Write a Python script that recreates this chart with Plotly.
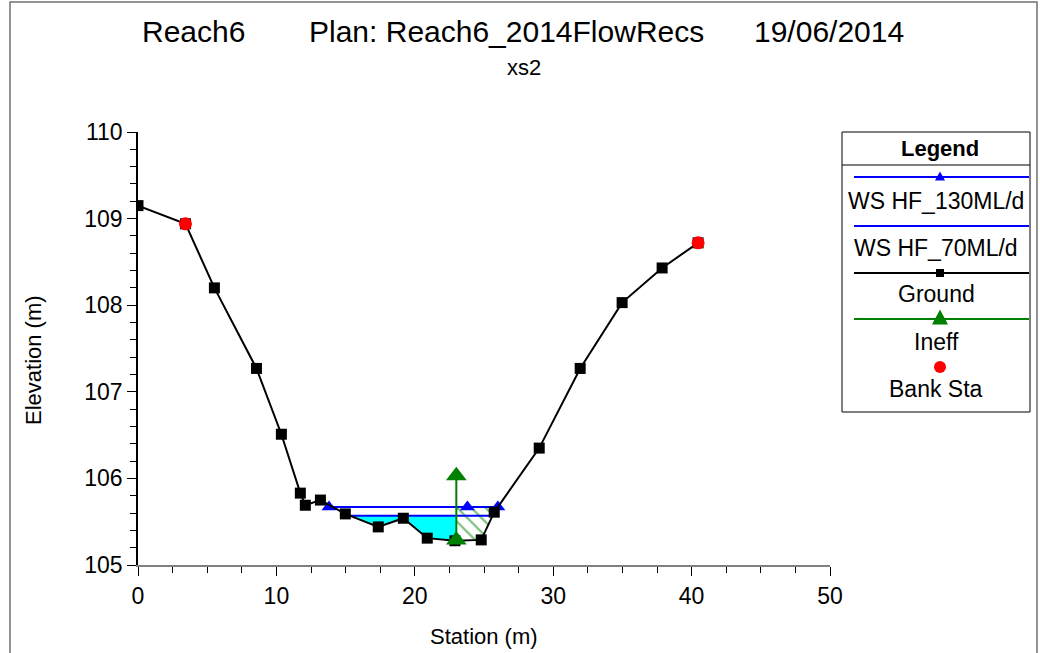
import numpy as np
import plotly.graph_objects as go

# ---- cross-section data (xs2) ----
ground_sta = [0.0, 3.43, 5.52, 8.56, 10.36, 11.73, 12.09, 13.18, 14.98, 17.36,
              19.17, 20.90, 22.90, 24.80, 25.74, 28.99, 31.95, 34.98, 37.87, 40.47]
ground_elev = [109.15, 108.94, 108.20, 107.27, 106.51, 105.83, 105.69, 105.75, 105.59, 105.44,
               105.54, 105.31, 105.28, 105.29, 105.61, 106.35, 107.27, 108.03, 108.43, 108.72]

ws130_sta = [13.8, 23.8, 26.0]
ws130_elev = [105.67, 105.67, 105.67]

ws70_sta = [15.3, 25.7]
ws70_elev = [105.57, 105.57]

ineff_sta = [23.0, 23.0]
ineff_elev = [105.29, 106.03]

bank_sta = [3.43, 40.47]
bank_elev = [108.94, 108.72]

title_parts = ["Reach6", "Plan: Reach6_2014FlowRecs", "19/06/2014"]
subtitle = "xs2"
legend_names = ["WS HF_130ML/d", "WS HF_70ML/d", "Ground", "Ineff", "Bank Sta"]

FONT = "Liberation Sans, Arial, sans-serif"
W, H = 1040, 653
ML, MR, MT, MB = 138, 210, 132, 88
PW, PH = W - ML - MR, H - MT - MB


def px(x):
    return (x - ML) / PW


def py(y):
    return (H - MB - y) / PH


g_x = np.array(ground_sta)
g_y = np.array(ground_elev)
x_ineff = ineff_sta[0]

# wetted area under the lower water surface, up to the ineffective-flow limit
ws_lo = ws70_elev[0]
xl = ws70_sta[0]
inner = (g_x > xl) & (g_x < x_ineff)
wet_x = [xl, x_ineff, x_ineff] + list(g_x[inner][::-1]) + [xl]
wet_y = [ws_lo, ws_lo, float(np.interp(x_ineff, g_x, g_y))] + list(g_y[inner][::-1]) + [float(np.interp(xl, g_x, g_y))]

# ineffective area (hatched) beneath the upper water surface
ws_hi = ws130_elev[0]
xr = ws130_sta[-1]
inner2 = (g_x > x_ineff) & (g_x < xr)
hat_x = [x_ineff, x_ineff, xr] + list(g_x[inner2][::-1])
hat_y = [float(np.interp(x_ineff, g_x, g_y)), ws_hi, float(np.interp(xr, g_x, g_y))] + list(g_y[inner2][::-1])
hat_x.append(hat_x[0])
hat_y.append(hat_y[0])

fig = go.Figure()
fig.add_trace(go.Scatter(x=wet_x, y=wet_y, mode="lines", fill="toself",
                         fillcolor="#00ffff", line=dict(width=0), hoverinfo="skip"))
fig.add_trace(go.Scatter(x=hat_x, y=hat_y, mode="lines", fill="toself",
                         fillcolor="rgba(0,0,0,0)", line=dict(width=0),
                         fillpattern=dict(shape="\\", fgcolor="#008000",
                                          bgcolor="rgba(0,0,0,0)", size=10, solidity=0.22),
                         hoverinfo="skip"))
fig.add_trace(go.Scatter(x=ws130_sta, y=ws130_elev, mode="lines+markers", name=legend_names[0],
                         line=dict(color="#0000ff", width=2),
                         marker=dict(symbol="triangle-up", size=13, color="#0000ff")))
fig.add_trace(go.Scatter(x=ws70_sta, y=ws70_elev, mode="lines", name=legend_names[1],
                         line=dict(color="#0000ff", width=2)))
fig.add_trace(go.Scatter(x=ground_sta, y=ground_elev, mode="lines+markers", name=legend_names[2],
                         line=dict(color="#000000", width=2),
                         marker=dict(symbol="square", size=11, color="#000000")))
fig.add_trace(go.Scatter(x=ineff_sta, y=ineff_elev, mode="lines+markers", name=legend_names[3],
                         line=dict(color="#008000", width=2),
                         marker=dict(symbol="triangle-up", size=18, color="#008000")))
fig.add_trace(go.Scatter(x=bank_sta, y=bank_elev, mode="markers", name=legend_names[4],
                         marker=dict(symbol="circle", size=13, color="#ff0000")))

shapes = []
annotations = []

# outer frame
shapes.append(dict(type="rect", xref="paper", yref="paper",
                   x0=px(10), x1=px(1037), y0=py(2), y1=py(660),
                   line=dict(color="#707070", width=1.5)))

# title
title_x = [140, 307, 752]
for t, xx in zip(title_parts, title_x):
    annotations.append(dict(text=t, x=px(xx), y=py(31), xref="paper", yref="paper",
                            xanchor="left", yanchor="middle", showarrow=False,
                            font=dict(family=FONT, size=30, color="black")))
annotations.append(dict(text=subtitle, x=px(524), y=py(67), xref="paper", yref="paper",
                        xanchor="center", yanchor="middle", showarrow=False,
                        font=dict(family=FONT, size=22, color="black")))

# axis titles
annotations.append(dict(text="Station (m)", x=px(484), y=py(636), xref="paper", yref="paper",
                        xanchor="center", yanchor="middle", showarrow=False,
                        font=dict(family=FONT, size=22, color="black")))
annotations.append(dict(text="Elevation (m)", x=px(33), y=py(360), xref="paper", yref="paper",
                        xanchor="center", yanchor="middle", showarrow=False, textangle=-90,
                        font=dict(family=FONT, size=22, color="black")))

# legend panel
LX0, LX1, LY0, LY1 = 842, 1030, 132, 412
shapes.append(dict(type="rect", xref="paper", yref="paper",
                   x0=px(LX0), x1=px(LX1), y0=py(LY0), y1=py(LY1),
                   fillcolor="white", line=dict(color="black", width=1)))
shapes.append(dict(type="line", xref="paper", yref="paper",
                   x0=px(LX0), x1=px(LX1), y0=py(165), y1=py(165),
                   line=dict(color="black", width=1)))
annotations.append(dict(text="<b>Legend</b>", x=px(940), y=py(148), xref="paper", yref="paper",
                        xanchor="center", yanchor="middle", showarrow=False,
                        font=dict(family=FONT, size=22, color="black")))

line_y = [177, 226, 273, 319]
line_c = ["#0000ff", "#0000ff", "#000000", "#008000"]
for yy, cc in zip(line_y, line_c):
    shapes.append(dict(type="line", xref="paper", yref="paper",
                       x0=px(854), x1=px(1029), y0=py(yy), y1=py(yy),
                       line=dict(color=cc, width=2)))


def tri(cx, cy, w, h, color):
    p = (f"M {px(cx)},{py(cy - h / 2)} L {px(cx - w / 2)},{py(cy + h / 2)} "
         f"L {px(cx + w / 2)},{py(cy + h / 2)} Z")
    return dict(type="path", xref="paper", yref="paper", path=p,
                fillcolor=color, line=dict(color=color, width=0))


shapes.append(tri(940, 176, 10, 9, "#0000ff"))
shapes.append(dict(type="rect", xref="paper", yref="paper",
                   x0=px(936), x1=px(944), y0=py(269), y1=py(277),
                   fillcolor="black", line=dict(width=0)))
shapes.append(tri(940, 317, 16, 15, "#008000"))
shapes.append(dict(type="circle", xref="paper", yref="paper",
                   x0=px(934), x1=px(946), y0=py(361), y1=py(373),
                   fillcolor="#ff0000", line=dict(width=0)))

label_y = [201, 248, 294, 342, 389]
for name, yy in zip(legend_names, label_y):
    annotations.append(dict(text=name, x=px(936), y=py(yy), xref="paper", yref="paper",
                            xanchor="center", yanchor="middle", showarrow=False,
                            font=dict(family=FONT, size=23, color="black")))

fig.update_layout(
    width=W, height=H, autosize=False,
    margin=dict(l=ML, r=MR, t=MT, b=MB, pad=0),
    paper_bgcolor="white", plot_bgcolor="white",
    showlegend=False,
    shapes=shapes, annotations=annotations,
    xaxis=dict(range=[0, 50], tickmode="linear", tick0=0, dtick=10,
               ticks="outside", ticklen=9, tickwidth=1, tickcolor="black",
               minor=dict(dtick=2.5, ticks="outside", ticklen=6, tickcolor="black", tickwidth=1),
               showline=True, linecolor="#808080", linewidth=2, showgrid=False, zeroline=False,
               tickfont=dict(family=FONT, size=23, color="black"), fixedrange=True),
    yaxis=dict(range=[105, 110], tickmode="linear", tick0=105, dtick=1,
               ticks="outside", ticklen=9, tickwidth=1, tickcolor="black",
               minor=dict(dtick=0.2, ticks="outside", ticklen=6, tickcolor="black", tickwidth=1),
               showline=True, linecolor="black", linewidth=1.5, showgrid=False, zeroline=False,
               tickfont=dict(family=FONT, size=23, color="black"), fixedrange=True),
)

fig.write_html("out.html")
